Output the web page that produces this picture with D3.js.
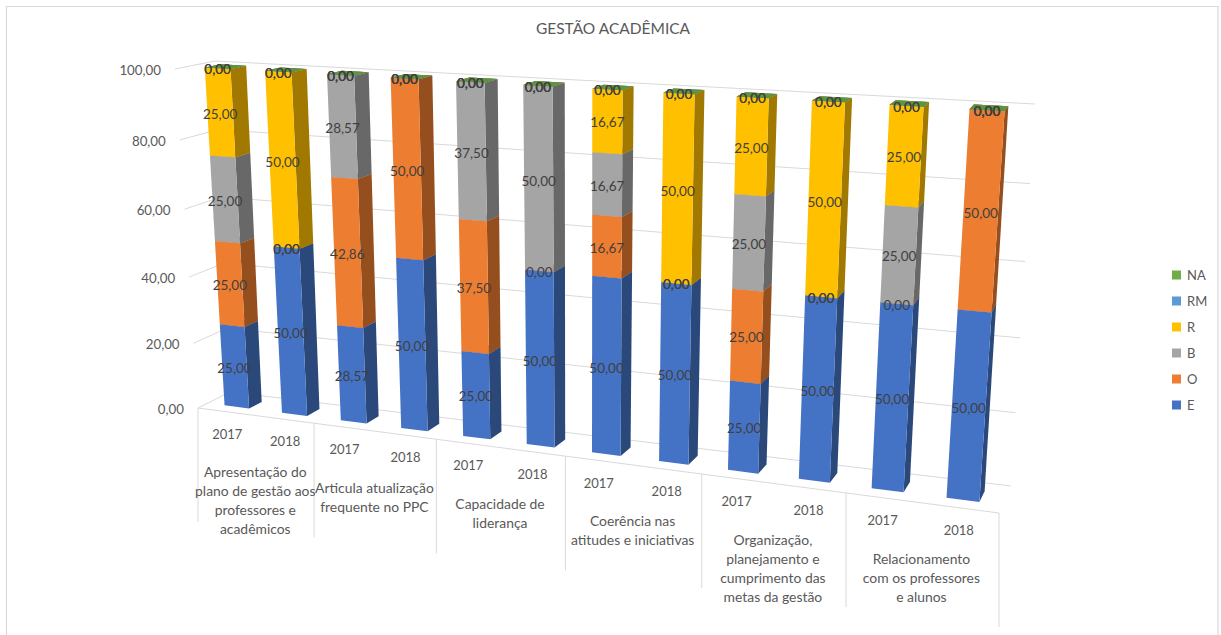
<!DOCTYPE html>
<html><head><meta charset="utf-8">
<script src="https://cdn.jsdelivr.net/npm/d3@7"></script>
<style>html,body{margin:0;padding:0;background:#fff}svg{display:block}text{font-family:Lato,"Open Sans",sans-serif}</style>
</head><body><svg id="c" width="1221" height="635"></svg>
<script>
const categories = [
  ["Apresentação do","plano de gestão aos","professores e","acadêmicos"],
  ["Articula atualização","frequente no PPC"],
  ["Capacidade de","liderança"],
  ["Coerência nas","atitudes e iniciativas"],
  ["Organização,","planejamento e","cumprimento das","metas da gestão"],
  ["Relacionamento","com os professores","e alunos"]
];
const years = ["2017","2018"];
const seriesNames = ["E","O","B","R","RM","NA"];
const seriesColors = ["#4472C4","#ED7D31","#A5A5A5","#FFC000","#5B9BD5","#70AD47"];
const E  = [25,50,28.57,50,25,50,50,50,25,50,50,50];
const O  = [25,0,42.86,50,37.5,0,16.67,0,25,0,0,50];
const B  = [25,0,28.57,0,37.5,50,16.67,0,25,0,25,0];
const R  = [25,50,0,0,0,0,16.67,50,25,50,25,0];
const RM = [0,0,0,0,0,0,0,0,0,0,0,0];
const NA = [0,0,0,0,0,0,0,0,0,0,0,0];
const valueTicks = [0,20,40,60,80,100];
const seriesValues = [E,O,B,R,RM,NA];

// perspective box: unit square -> quad homography, front plane and back plane
function homography(p00,p10,p11,p01){
  const [x0,y0]=p00,[x1,y1]=p10,[x2,y2]=p11,[x3,y3]=p01;
  const dx1=x1-x2,dx2=x3-x2,sx=x0-x1+x2-x3,dy1=y1-y2,dy2=y3-y2,sy=y0-y1+y2-y3;
  const den=dx1*dy2-dx2*dy1;
  const g=(sx*dy2-dx2*sy)/den,h=(dx1*sy-sx*dy1)/den;
  const a=x1-x0+g*x1,b=x3-x0+h*x3,c=x0,d=y1-y0+g*y1,e=y3-y0+h*y3,f=y0;
  return (u,v)=>{const w=g*u+h*v+1;return [(a*u+b*v+c)/w,(d*u+e*v+f)/w];};
}
const frontPlane = homography([198,408],[999,513],[1027,116],[175,69]);
const backPlane  = homography([230,392],[1011,486],[1035,104],[215,61]);
const tScale = d3.scaleLinear().domain([0,categories.length]).range([0,1]);
const hScale = d3.scaleLinear().domain([0,100]).range([0,1]);
const barKeys = d3.range(categories.length*years.length);
const band = d3.scaleBand().domain(barKeys).range([0,1]).paddingInner(0.57).paddingOuter(0.3);
function P(t,val,z){
  const a=frontPlane(t,hScale(val)),b=backPlane(t,hScale(val));
  return [a[0]+(b[0]-a[0])*z,a[1]+(b[1]-a[1])*z];
}
const zFront=0.3,zBack=0.7;
const svg=d3.select("#c");
const line=d3.line();
const axisColor="#d9d9d9",textColor="#595959",labelColor="#404040";

// frame
svg.append("path").attr("d","M6.5,635V6.5H1218V635").attr("fill","none").attr("stroke",axisColor).attr("stroke-width",1.2);

// title
svg.append("text").attr("x",613).attr("y",28).attr("text-anchor","middle").attr("dominant-baseline","central")
  .attr("font-size",15.5).attr("fill",textColor).text("GESTÃO ACADÊMICA");

// gridlines + left wall
const grid=svg.append("g").attr("fill","none").attr("stroke",axisColor).attr("stroke-width",1);
valueTicks.forEach(v=>{
  grid.append("path").attr("d",line([P(0,v,0),P(0,v,1),P(1,v,1)]));
});
// front floor edge and category separators
grid.append("path").attr("d",line([P(0,0,0),P(1,0,0)]));
d3.range(categories.length+1).forEach(i=>{
  const p=P(tScale(i),0,0);
  grid.append("path").attr("d",line([p,[p[0],p[1]+114]]));
});

// value axis labels
svg.append("g").selectAll("text").data(valueTicks).join("text")
  .attr("x",d=>P(0,d,0)[0]-14).attr("y",d=>P(0,d,0)[1]+1)
  .attr("text-anchor","end").attr("dominant-baseline","central")
  .attr("font-size",13.3).attr("fill",textColor)
  .text(d=>d3.format(".2f")(d).replace(".",","));

// bars
const shade=(c,k)=>{const r=d3.rgb(c);return d3.rgb(r.r*k,r.g*k,r.b*k).formatHex();};
const barsG=svg.append("g"), labelsG=svg.append("g");
barKeys.forEach(i=>{
  const t0=band(i),t1=t0+band.bandwidth();
  let base=0;
  seriesValues.forEach((vals,s)=>{
    const top=base+vals[i];
    const col=seriesColors[s];
    const g=barsG.append("g");
    if(vals[i]>0){
      g.append("path").attr("fill",shade(col,0.63)).attr("d",line([P(t1,base,zFront),P(t1,base,zBack),P(t1,top,zBack),P(t1,top,zFront)])+"Z");
      g.append("path").attr("fill",col).attr("d",line([P(t0,base,zFront),P(t1,base,zFront),P(t1,top,zFront),P(t0,top,zFront)])+"Z");
    }
    g.append("path").attr("fill",shade(col,0.85)).attr("d",line([P(t0,top,zFront),P(t1,top,zFront),P(t1,top,zBack),P(t0,top,zBack)])+"Z");
    const m=P((t0+t1)/2,(base+top)/2,zFront);
    labelsG.append("text").attr("x",m[0]).attr("y",m[1]+1)
      .attr("text-anchor","middle").attr("dominant-baseline","central")
      .attr("font-size",13.5).attr("fill",labelColor)
      .text(d3.format(".2f")(vals[i]).replace(".",","));
    base=top;
  });
});

// year labels
barKeys.forEach(i=>{
  const p=P(band(i)+band.bandwidth()/2,0,0);
  svg.append("text").attr("x",p[0]).attr("y",p[1]+22).attr("text-anchor","middle").attr("dominant-baseline","central")
    .attr("font-size",13).attr("fill",textColor).text(years[i%years.length]);
});
// category labels
categories.forEach((lines,i)=>{
  const p=P(tScale(i+0.5),0,0);
  lines.forEach((l,j)=>{
    svg.append("text").attr("x",p[0]).attr("y",p[1]+56+j*19).attr("text-anchor","middle").attr("dominant-baseline","central")
      .attr("font-size",13.9).attr("fill",textColor).text(l);
  });
});

// legend
const legendY=d3.scalePoint().domain(seriesNames).range([405,275]);
const leg=svg.append("g").selectAll("g").data(seriesNames).join("g")
  .attr("transform",d=>`translate(1172,${legendY(d)})`);
leg.append("rect").attr("x",0).attr("y",-4.5).attr("width",9).attr("height",9).attr("fill",(d,i)=>seriesColors[i]);
leg.append("text").attr("x",15).attr("y",0).attr("dominant-baseline","central").attr("font-size",13).attr("fill",textColor).text(d=>d);
</script></body></html>
